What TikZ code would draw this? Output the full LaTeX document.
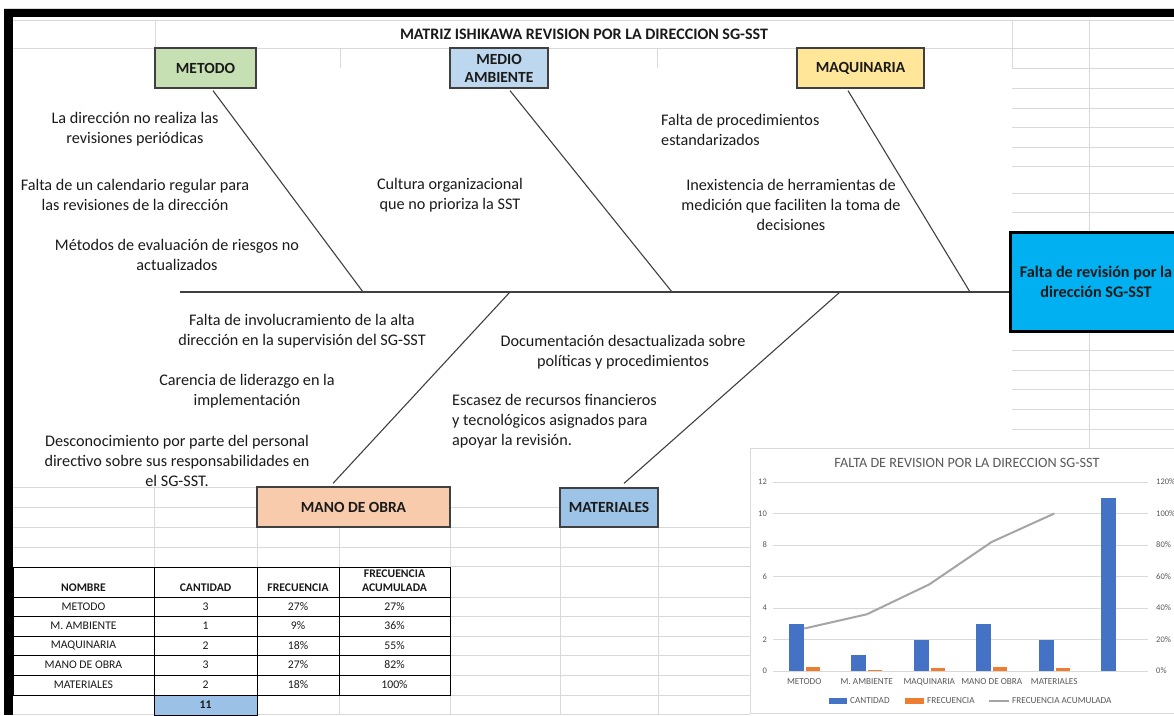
\documentclass[tikz,border=0pt]{standalone}
\usepackage{fontspec}
\setmainfont{Carlito}
\definecolor{gridc}{HTML}{D9D9D9}
\definecolor{linec}{HTML}{404040}
\definecolor{txtc}{HTML}{1A1A1A}
\definecolor{greenbox}{HTML}{C6E0B4}
\definecolor{bluebox}{HTML}{BDD7EE}
\definecolor{yellowbox}{HTML}{FFE699}
\definecolor{peachbox}{HTML}{F8CBAD}
\definecolor{matbox}{HTML}{9DC3E6}
\definecolor{effectc}{HTML}{00B0F0}
\definecolor{totalc}{HTML}{9BC2E6}
\definecolor{barblue}{HTML}{4472C4}
\definecolor{barorange}{HTML}{ED7D31}
\definecolor{cumline}{HTML}{A5A5A5}
\definecolor{charttext}{HTML}{595959}
\begin{document}
\begin{tikzpicture}[x=1pt,y=-1pt,
  sheetline/.style={draw=gridc, line width=0.9pt},
  tableline/.style={draw=black, line width=1pt},
  catbox/.style={draw=linec, line width=1.3pt, inner sep=0pt, align=center,
    text=txtc, font=\bfseries\fontsize{15.5}{18}\selectfont},
  cause/.style={inner sep=0pt, align=center, text=txtc,
    font=\fontsize{16.2}{20}\selectfont},
  spine/.style={draw=linec, line width=1.3pt},
  branch/.style={draw=linec, line width=1.1pt},
  thead/.style={inner sep=0pt, align=center, text=txtc,
    font=\bfseries\fontsize{11.7}{14.4}\selectfont},
  tcell/.style={inner sep=0pt, text=txtc, font=\fontsize{11.7}{13}\selectfont},
  axlab/.style={inner sep=0pt, text=charttext, font=\fontsize{8.5}{9}\selectfont},
  catlab/.style={inner sep=0pt, text=charttext, font=\fontsize{9.2}{10}\selectfont},
]
\useasboundingbox (0,0) rectangle (1174,715);
\clip (0,0) rectangle (1174,715);

% ---------- sheet frame ----------
\draw[sheetline] (4,8) -- (1174,8);
\fill[black] (4,9) rectangle (1174,17);
\fill[black] (4,9) rectangle (13,715);

% ---------- spreadsheet grid ----------
\draw[sheetline] (13,20) -- (1174,20);
\draw[sheetline] (13,48) -- (1174,48);
\draw[sheetline] (155,20) -- (155,48);
\draw[sheetline] (1012,20) -- (1012,68);
\draw[sheetline] (340,48) -- (340,68);
\draw[sheetline] (657,48) -- (657,68);
\draw[sheetline] (1089,20) -- (1089,231);
\draw[sheetline] (1089,330) -- (1089,448);
\foreach \yy in {68,88,108,127,147,166,193,212,350,370,389,409,429}
  \draw[sheetline] (1012,\yy) -- (1174,\yy);
% rows around the lower category boxes
\draw[sheetline] (13,487) -- (257,487);
\draw[sheetline] (13,507) -- (257,507);
\draw[sheetline] (450,507) -- (560,507);
\draw[sheetline] (13,527) -- (750,527);
\draw[sheetline] (13,547) -- (750,547);
\foreach \yy in {566,597,616,636,655,675,695,714}
  \draw[sheetline] (450,\yy) -- (750,\yy);
\draw[sheetline] (13,714) -- (450,714);
\draw[sheetline] (154,487) -- (154,567);
\draw[sheetline] (257,527) -- (257,567);
\draw[sheetline] (339,527) -- (339,567);
\draw[sheetline] (339,695) -- (339,715);
\draw[sheetline] (450,527) -- (450,715);
\draw[sheetline] (560,527) -- (560,715);
\draw[sheetline] (658,527) -- (658,715);

% ---------- title ----------
\node[inner sep=0pt, text=txtc, font=\bfseries\fontsize{16}{18}\selectfont]
  (titulo) at (584,34) {MATRIZ ISHIKAWA REVISION POR LA DIRECCION SG-SST};

% ---------- category boxes ----------
\node[catbox, fill=greenbox, minimum width=101, minimum height=40] (metodo) at (205.5,68) {METODO};
\node[catbox, fill=bluebox, minimum width=98, minimum height=40] (medio) at (499,68) {MEDIO\\AMBIENTE};
\node[catbox, fill=yellowbox, minimum width=127, minimum height=40] (maquinaria) at (860.5,68) {MAQUINARIA};
\node[catbox, fill=peachbox, minimum width=193, minimum height=40] (mano) at (353.5,507) {MANO DE OBRA};
\node[catbox, fill=matbox, minimum width=98, minimum height=39] (materiales) at (609,507.5) {MATERIALES};

% ---------- effect ----------
\node[draw=black, line width=3pt, fill=effectc, minimum width=172, minimum height=99,
  inner sep=0pt, align=center, text=txtc, font=\bfseries\fontsize{16.2}{20}\selectfont]
  (efecto) at (1096,281.5) {Falta de revisión por la\\dirección SG-SST};

% ---------- spine and branches ----------
\coordinate (cola) at (180,292);
\coordinate (j1) at (363,292);
\coordinate (j2) at (672,292);
\coordinate (j3) at (970,292);
\coordinate (j4) at (510,292);
\coordinate (j5) at (840,292);
\draw[spine] (cola) -- (efecto.west |- cola);
\draw[branch] ([shift={(7.5,2)}]metodo.south) -- (j1);
\draw[branch] ([shift={(11,2)}]medio.south) -- (j2);
\draw[branch] ([shift={(-12.5,2)}]maquinaria.south) -- (j3);
\draw[branch] ([shift={(-20.5,-3)}]mano.north) -- (j4);
\draw[branch] ([shift={(15,-4)}]materiales.north) -- (j5);

% ---------- causes ----------
\node[cause] (m1) at (135,129.5) {La dirección no realiza las\\revisiones periódicas};
\node[cause] (m2) at (135,195) {Falta de un calendario regular para\\las revisiones de la dirección};
\node[cause] (m3) at (177,254.5) {Métodos de evaluación de riesgos no\\actualizados};
\node[cause] (a1) at (450,195) {Cultura organizacional\\que no prioriza la SST};
\node[cause, align=left, anchor=west] (q1) at (661,129.5) {Falta de procedimientos\\estandarizados};
\node[cause] (q2) at (791,205) {Inexistencia de herramientas de\\medición que faciliten la toma de\\decisiones};
\node[cause] (o1) at (302,331.5) {Falta de involucramiento de la alta\\dirección en la supervisión del SG-SST};
\node[cause] (o2) at (247,391.5) {Carencia de liderazgo en la\\implementación};
\node[cause] (o3) at (177,460.5) {Desconocimiento por parte del personal\\directivo sobre sus responsabilidades en\\el SG-SST.};
\node[cause] (t1) at (623,352.5) {Documentación desactualizada sobre\\políticas y procedimientos};
\node[cause, align=left, anchor=west] (t2) at (452,421.5) {Escasez de recursos financieros\\y tecnológicos asignados para\\apoyar la revisión.};

% ---------- frequency table ----------
\fill[totalc] (154,695) rectangle (257,715);
\draw[tableline] (13,567) rectangle (450,695);
\foreach \yy in {597,616,636,655,675}
  \draw[tableline] (13,\yy) -- (450,\yy);
\foreach \xx in {154,257,339}
  \draw[tableline] (\xx,567) -- (\xx,695);
\draw[tableline] (154,695) rectangle (257,715);
\node[thead] (hn) at (83.5,588) {NOMBRE};
\node[thead] (hc) at (205.5,588) {CANTIDAD};
\node[thead] (hf) at (298,588) {FRECUENCIA};
\node[thead] (ha) at (394.5,580.5) {FRECUENCIA\\ACUMULADA};
\foreach \r/\yy/\nm/\cn/\fr/\ac in {1/606.5/METODO/3/27/27, 2/626/M. AMBIENTE/1/9/36,
    3/645.5/MAQUINARIA/2/18/55, 4/665/MANO DE OBRA/3/27/82, 5/685/MATERIALES/2/18/100} {
  \node[tcell] (tn\r) at (83.5,\yy) {\nm};
  \node[tcell] (tc\r) at (205.5,\yy) {\cn};
  \node[tcell] (tf\r) at (298,\yy) {\fr\%};
  \node[tcell] (ta\r) at (394.5,\yy) {\ac\%};
}
\node[tcell, font=\bfseries\fontsize{11.7}{13}\selectfont] (total) at (205.5,705) {11};

% ---------- pareto chart ----------
\draw[draw=gridc, fill=white, line width=0.9pt] (750,448) rectangle (1185,713);
\node[inner sep=0pt, text=charttext, font=\fontsize{14.2}{16}\selectfont]
  (ctitulo) at (967,463) {FALTA DE REVISION POR LA DIRECCION SG-SST};
\foreach \v in {0,2,...,12} {
  \draw[draw=gridc, line width=0.8pt] (773,{671-\v*15.75}) -- (1148,{671-\v*15.75});
  \node[axlab, anchor=east] (yl\v) at (767,{671-\v*15.75}) {\v};
  \pgfmathtruncatemacro\pc{\v*10}
  \node[axlab, anchor=west] (yr\v) at (1156,{671-\v*15.75}) {\pc\%};
}
\foreach \i/\cn/\fr in {1/3/0.27, 2/1/0.09, 3/2/0.18, 4/3/0.27, 5/2/0.18} {
  \pgfmathsetmacro\cx{773+62.5*(\i-0.5)}
  \fill[barblue] ({\cx-15.5},671) rectangle ({\cx-0.5},{671-\cn*15.75});
  \fill[barorange] ({\cx+1.5},671) rectangle ({\cx+15.5},{671-\fr*15.75});
}
\fill[barblue] (1101.25,671) rectangle (1116.25,497.75);
\draw[draw=cumline, line width=2pt, line join=round]
  (804.25,628.5) -- (866.75,614.3) -- (929.25,584.4) -- (991.75,541.9) -- (1054.25,513.5);
\node[catlab] (k1) at (804.25,682) {METODO};
\node[catlab] (k2) at (866.75,682) {M. AMBIENTE};
\node[catlab] (k3) at (929.25,682) {MAQUINARIA};
\node[catlab] (k4) at (991.75,682) {MANO DE OBRA};
\node[catlab] (k5) at (1054.25,682) {MATERIALES};
% legend
\fill[barblue] (829,698) rectangle (847,704);
\node[catlab, anchor=west] (lg1) at (850,701) {CANTIDAD};
\fill[barorange] (905,698) rectangle (924,704);
\node[catlab, anchor=west] (lg2) at (927,701) {FRECUENCIA};
\draw[draw=cumline, line width=2pt] (989,701) -- (1009,701);
\node[catlab, anchor=west] (lg3) at (1012,701) {FRECUENCIA ACUMULADA};
\end{tikzpicture}
\end{document}
